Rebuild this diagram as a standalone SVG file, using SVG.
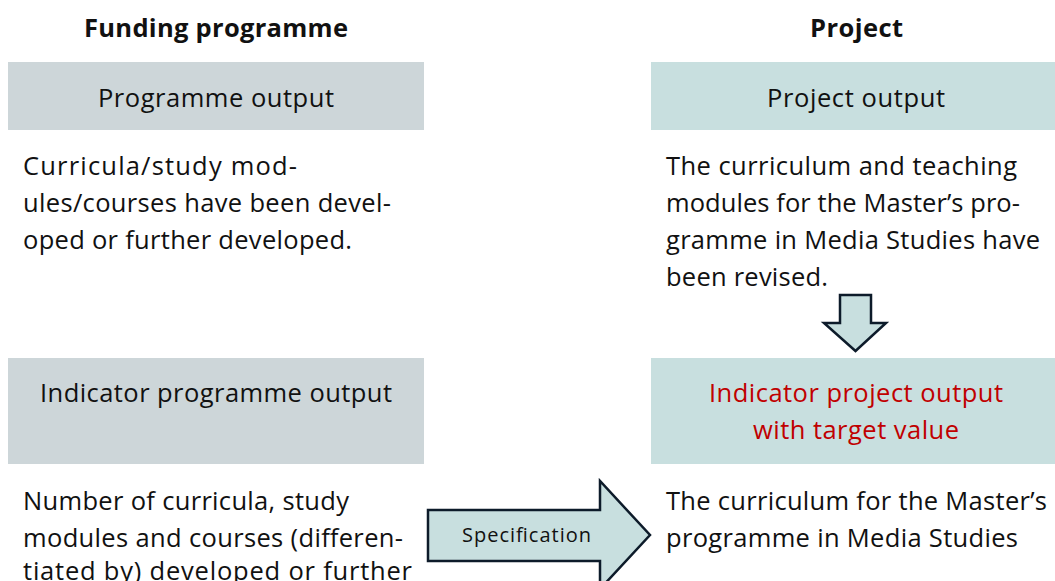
<svg xmlns="http://www.w3.org/2000/svg" width="1055" height="581" viewBox="0 0 1055 581">
<style>
text{font-family:"Open Sans","Noto Sans",sans-serif;fill:#111;}
.h{font-weight:bold;font-size:25.5px;text-anchor:middle;}
.t{font-size:25.5px;}
.c{text-anchor:middle;}
.red{fill:#c00000;}
.gray{fill:#cdd6d9;}
.teal{fill:#c8dfdf;}
.arr{fill:#c8dfdf;stroke:#0d1b2a;stroke-width:2.5;stroke-linejoin:miter;}
</style>
<rect width="1055" height="581" fill="#fff"/>
<g id="head-left"><text class="h" x="216" y="37" textLength="264" lengthAdjust="spacing">Funding programme</text></g>
<g id="head-right"><text class="h" x="856.5" y="37" textLength="93" lengthAdjust="spacing">Project</text></g>
<g id="prog-output">
<rect class="gray" x="8" y="62" width="416" height="68"/>
<text class="t c" x="216" y="107" textLength="236" lengthAdjust="spacing">Programme output</text>
</g>
<g id="proj-output">
<rect class="teal" x="651" y="62" width="404" height="68"/>
<text class="t c" x="856" y="107" textLength="178" lengthAdjust="spacing">Project output</text>
</g>
<g id="prog-output-text">
<text class="t" x="23" y="175" textLength="274" lengthAdjust="spacing">Curricula/study mod-</text>
<text class="t" x="23" y="212" textLength="368" lengthAdjust="spacing">ules/courses have been devel-</text>
<text class="t" x="23" y="249" textLength="329" lengthAdjust="spacing">oped or further developed.</text>
</g>
<g id="proj-output-text">
<text class="t" x="666" y="175" textLength="351" lengthAdjust="spacing">The curriculum and teaching</text>
<text class="t" x="666" y="212" textLength="354" lengthAdjust="spacing">modules for the Master’s pro-</text>
<text class="t" x="666" y="249" textLength="374" lengthAdjust="spacing">gramme in Media Studies have</text>
<text class="t" x="666" y="286" textLength="162" lengthAdjust="spacing">been revised.</text>
</g>
<g id="ind-prog">
<rect class="gray" x="8" y="358" width="416" height="106"/>
<text class="t c" x="216" y="402" textLength="352" lengthAdjust="spacing">Indicator programme output</text>
</g>
<g id="ind-proj">
<rect class="teal" x="651" y="358" width="404" height="106"/>
<text class="t c red" x="856" y="402" textLength="294" lengthAdjust="spacing">Indicator project output</text>
<text class="t c red" x="856" y="439" textLength="206" lengthAdjust="spacing">with target value</text>
</g>
<g id="ind-prog-text">
<text class="t" x="23" y="510" textLength="326" lengthAdjust="spacing">Number of curricula, study</text>
<text class="t" x="23" y="547" textLength="380" lengthAdjust="spacing">modules and courses (differen-</text>
<text class="t" x="23" y="580" textLength="389" lengthAdjust="spacing">tiated by) developed or further</text>
</g>
<g id="ind-proj-text">
<text class="t" x="666" y="510" textLength="381" lengthAdjust="spacing">The curriculum for the Master’s</text>
<text class="t" x="666" y="547" textLength="352" lengthAdjust="spacing">programme in Media Studies</text>
</g>
<g id="connectors">
<polygon class="arr" points="840,295 871,295 871,323 886,323 855.5,351 824,323 840,323"/>
<polygon class="arr" points="428,510 600,510 600,481 650,535 600,589 600,561 428,561"/>
<text x="526.5" y="542" style="font-size:20px;text-anchor:middle" textLength="129" lengthAdjust="spacing">Specification</text>
</g>
</svg>
